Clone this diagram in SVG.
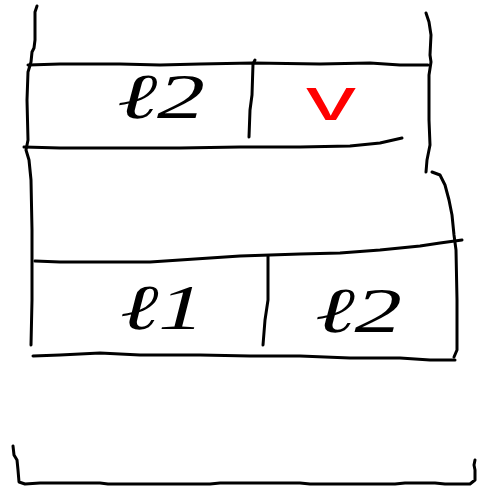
<svg xmlns="http://www.w3.org/2000/svg" width="477" height="489" viewBox="0 0 477 489">
<style>
.s{fill:none;stroke:#000;stroke-width:3;stroke-linecap:round;stroke-linejoin:round}
.t{font-family:"Liberation Serif","DejaVu Serif",serif;font-style:italic;font-size:64px;fill:#000}
.r{font-family:"Liberation Sans",Arial,sans-serif;font-size:62px;fill:#f00}
</style>
<rect width="477" height="489" fill="#fff"/>
<g id="connectors">
<path class="s" d="M37,6 L35,12 L35,40 L34,48 L32,52 L31,62 L28,72 L27,100 L28,140 L26,150 L29,160 L31,180 L32,230 L32,300 L31,345"/>
<path class="s" d="M426,13 L429,22 L431,35 L430,55 L431,62 L429,75 L429,120 L430,145 L427,160 L426,172"/>
<path class="s" d="M432,172 L440,175 L445,185 L449,200 L452,215 L454,235 L456,250 L457,300 L457,350 L454,357"/>
</g>
<g id="row-top">
<path class="s" d="M28,65 L60,64 L120,64 L160,65 L200,64 L253,63 L320,64 L370,63 L400,65 L428,65"/>
<path class="s" d="M24,147 L60,148 L120,148 L180,148 L240,147 L300,147 L350,146 L380,143 L402,138"/>
<path class="s" d="M255,60 L253,64 L252,95 L250,110 L249,137"/>
<text class="t" x="117" y="118" textLength="88" lengthAdjust="spacingAndGlyphs">ℓ2</text>
<text class="r" x="306" y="120" textLength="50" lengthAdjust="spacingAndGlyphs">v</text>
</g>
<g id="row-bottom">
<path class="s" d="M35,261 L60,262 L150,262 L180,260 L210,258 L240,256 L270,255 L300,254 L340,253 L380,250 L400,248 L420,246 L440,243 L462,240"/>
<path class="s" d="M268,256 L268,300 L265,320 L263,345"/>
<path class="s" d="M33,356 L60,355 L100,353 L140,355 L200,355 L250,356 L300,356 L350,358 L400,358 L430,360 L455,360"/>
<text class="t" x="120" y="329" textLength="84" lengthAdjust="spacingAndGlyphs">ℓ1</text>
<text class="t" x="315" y="332" textLength="87" lengthAdjust="spacingAndGlyphs">ℓ2</text>
</g>
<g id="bracket">
<path class="s" d="M13,446 L14,455 L17,460 L18,470 L19,482 L25,484 L40,483 L100,483 L108,484 L210,484 L220,483 L300,483 L310,484 L395,484 L405,483 L435,483 L445,484 L470,484 L475,480 L475,470 L474,465 L475,460"/>
</g>
</svg>
